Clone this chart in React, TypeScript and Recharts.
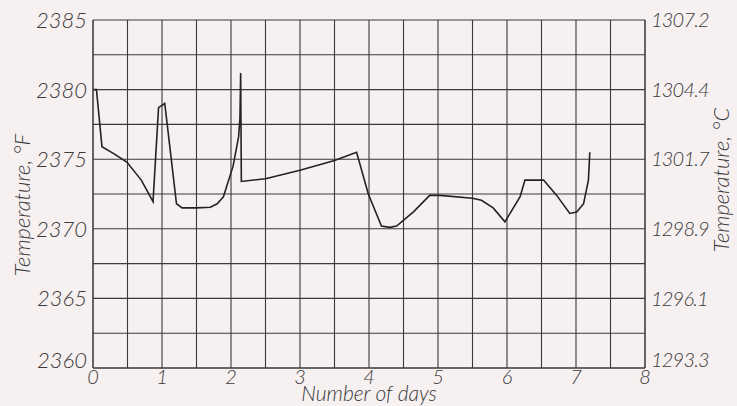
import React from 'react';
import { LineChart, Line, XAxis, YAxis, CartesianGrid, Label } from 'recharts';

const days = [
  0, 0.05, 0.13, 0.3, 0.49, 0.7, 0.87, 0.95, 1.04, 1.21, 1.29, 1.5, 1.7, 1.8, 1.89, 2.03, 2.11, 2.13, 2.14, 2.15,
  2.5, 3.0, 3.5, 3.82, 3.99, 4.18, 4.3, 4.4, 4.64, 4.88, 5.03, 5.5, 5.63, 5.8, 5.97, 6.19, 6.26, 6.53, 6.72, 6.91,
  7.01, 7.11, 7.18, 7.2,
];
const tempF = [
  2380, 2380, 2375.9, 2375.4, 2374.8, 2373.5, 2371.95, 2378.7, 2379.0, 2371.8, 2371.5, 2371.5, 2371.55, 2371.8,
  2372.3, 2374.5, 2376.6, 2378.0, 2381.2, 2373.4, 2373.6, 2374.2, 2374.9, 2375.5, 2372.5, 2370.2, 2370.1, 2370.2,
  2371.2, 2372.4, 2372.4, 2372.2, 2372.05, 2371.5, 2370.5, 2372.3, 2373.5, 2373.5, 2372.4, 2371.1, 2371.2, 2371.8,
  2373.5, 2375.5,
];

const dayTicks = [0, 1, 2, 3, 4, 5, 6, 7, 8];
const dayGrid = [0, 0.5, 1, 1.5, 2, 2.5, 3, 3.5, 4, 4.5, 5, 5.5, 6, 6.5, 7, 7.5, 8];
const fTicks = [2360, 2365, 2370, 2375, 2380, 2385];
const fGrid = [2360, 2362.5, 2365, 2367.5, 2370, 2372.5, 2375, 2377.5, 2380, 2382.5, 2385];
const cLabels = ['1293.3', '1296.1', '1298.9', '1301.7', '1304.4', '1307.2'];

const data = days.map((d, i) => ({ day: d, f: tempF[i] }));

const ink = '#3a3a3a';
const font = 'Lato, "Open Sans", sans-serif';
const tickStyle = { fontSize: 22, fontStyle: 'italic', fontWeight: 300, fill: ink, fontFamily: font };
const labelStyle = { fontSize: 22, fontStyle: 'italic', fontWeight: 300, fill: ink, fontFamily: font };

// y tick: the lowest label sits a little above the axis, as in the drawing
const YTick = (props: any) => {
  const { x, y, payload, side } = props;
  const v = payload.value as number;
  const lift = v === fTicks[0] ? -8 : 0;
  const text = side === 'right' ? cLabels[fTicks.indexOf(v)] : String(v);
  return (
    <text
      x={side === 'right' ? x + 2 : x - 2}
      y={y + lift}
      dy="0.36em"
      textAnchor={side === 'right' ? 'start' : 'end'}
      style={side === 'right' ? { ...tickStyle, fontSize: 20, letterSpacing: -0.8 } : tickStyle}
    >
      {text}
    </text>
  );
};

const SideLabel = (cx: number, cy: number, text: string) => (props: any) => (
  <text
    transform={`translate(${cx},${cy}) rotate(-90)`}
    textAnchor="middle"
    dy="0.35em"
    style={labelStyle}
  >
    {text}
  </text>
);

const App: React.FC = () => {
  return (
    <div style={{ position: 'absolute', left: 0, top: 0, width: 737, height: 406, background: '#f6f0f1' }}>
      <LineChart width={737} height={406} data={data} margin={{ top: 20, right: 0, left: 0, bottom: 0 }}>
        <CartesianGrid
          yAxisId="f"
          stroke={ink}
          strokeWidth={1.1}
          verticalValues={dayGrid}
          horizontalValues={fGrid}
        />
        <XAxis
          dataKey="day"
          type="number"
          domain={[0, 8]}
          ticks={dayTicks}
          tickLine={false}
          tickSize={2}
          axisLine={{ stroke: ink }}
          tick={{ ...tickStyle, fontSize: 20 }}
          tickMargin={0}
          height={38}
        >
          <Label value="Number of days" position="insideBottom" offset={5} style={{ ...labelStyle, fontSize: 21 }} />
        </XAxis>
        <YAxis
          yAxisId="f"
          type="number"
          domain={[2360, 2385]}
          ticks={fTicks}
          tickLine={false}
          tickSize={4}
          axisLine={{ stroke: ink }}
          tick={<YTick side="left" />}
          tickMargin={0}
          width={93}
        >
          <Label content={SideLabel(22, 205, 'Temperature, °F')} />
        </YAxis>
        <YAxis
          yAxisId="c"
          orientation="right"
          type="number"
          domain={[2360, 2385]}
          ticks={fTicks}
          tickLine={false}
          tickSize={4}
          axisLine={{ stroke: ink }}
          tick={<YTick side="right" />}
          tickMargin={0}
          width={92}
        >
          <Label content={SideLabel(721, 180, 'Temperature, °C')} />
        </YAxis>
        <Line
          yAxisId="f"
          type="linear"
          dataKey="f"
          stroke="#222"
          strokeWidth={1.6}
          dot={false}
          isAnimationActive={false}
        />
        <Line
          yAxisId="c"
          type="linear"
          dataKey="f"
          stroke="none"
          dot={false}
          activeDot={false}
          legendType="none"
          isAnimationActive={false}
        />
      </LineChart>
    </div>
  );
};

export default App;
